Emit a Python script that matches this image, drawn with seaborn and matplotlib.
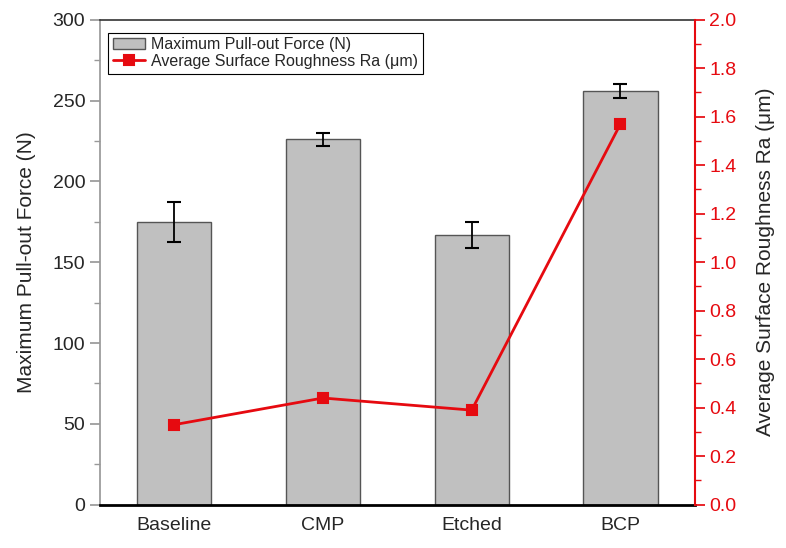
import matplotlib
matplotlib.use("Agg")
import matplotlib.pyplot as plt
from matplotlib.ticker import MultipleLocator
import pandas as pd
import seaborn as sns

# data
treatments = ["Baseline", "CMP", "Etched", "BCP"]
pullout_force = [175, 226, 167, 256]
pullout_err = [12.5, 4, 8, 4.5]
roughness_ra = [0.33, 0.44, 0.39, 1.57]

sns.set_theme(style="white")
plt.rcParams["font.family"] = ["Liberation Sans", "DejaVu Sans"]

df = pd.DataFrame({"treatment": treatments, "force": pullout_force,
                   "err": pullout_err, "ra": roughness_ra})

RED = "#e60a10"
fig = plt.figure(figsize=(7.86, 5.48), dpi=100)
ax = fig.add_axes([0.127, 0.079, 0.757, 0.885])

sns.barplot(data=df, x="treatment", y="force", color="#c0c0c0", width=0.5,
            edgecolor="#555555", linewidth=1, saturation=1, errorbar=None,
            ax=ax, label="Maximum Pull-out Force (N)")
ax.errorbar(range(len(df)), df["force"], yerr=df["err"], fmt="none",
            ecolor="black", elinewidth=1.3, capsize=5, capthick=1.5)

ax.set_ylim(0, 300)
ax.set_xlim(-0.5, 3.5)
ax.yaxis.set_major_locator(MultipleLocator(50))
ax.yaxis.set_minor_locator(MultipleLocator(25))
ax.tick_params(axis="y", which="both", direction="out", left=True,
               color="#999999", labelsize=14)
ax.tick_params(axis="y", which="major", length=7)
ax.tick_params(axis="y", which="minor", length=4)
ax.tick_params(axis="x", direction="in", bottom=True, length=6,
               color="black", labelsize=14, pad=9)
ax.set_xlabel("")
ax.set_ylabel("Maximum Pull-out Force (N)", fontsize=15, labelpad=12)
ax.spines["left"].set_color("#999999")
ax.spines["bottom"].set_color("black")
ax.spines["bottom"].set_linewidth(2)
ax.spines["top"].set_color("#333333")
ax.spines["top"].set_linewidth(1.2)
ax.spines["right"].set_visible(False)

ax2 = ax.twinx()
sns.pointplot(data=df, x="treatment", y="ra", color=RED, markers="s",
              markersize=6.5, linewidth=2, ax=ax2,
              label="Average Surface Roughness Ra (μm)")
ax2.set_ylim(0, 2.0)
ax2.set_xlim(-0.5, 3.5)
ax2.yaxis.set_major_locator(MultipleLocator(0.2))
ax2.yaxis.set_minor_locator(MultipleLocator(0.1))
ax2.yaxis.set_major_formatter(plt.FormatStrFormatter("%.1f"))
ax2.tick_params(axis="y", which="both", direction="out", right=True,
                color=RED, labelcolor=RED, labelsize=14)
ax2.tick_params(axis="y", which="major", length=7)
ax2.tick_params(axis="y", which="minor", length=4)
ax2.set_ylabel("Average Surface Roughness Ra (μm)", fontsize=15, labelpad=14)
for s in ["left", "top", "bottom"]:
    ax2.spines[s].set_visible(False)
ax2.spines["right"].set_color(RED)
ax2.spines["right"].set_linewidth(1.5)

h1, l1 = ax.get_legend_handles_labels()
h2, l2 = ax2.get_legend_handles_labels()
leg = ax2.legend(h1[:1] + h2[:1], l1[:1] + l2[:1], loc="upper left",
                 bbox_to_anchor=(0.0, 0.99), fontsize=11.5, frameon=True,
                 fancybox=False, edgecolor="black", framealpha=1,
                 handlelength=2, handletextpad=0.4, borderpad=0.3,
                 labelspacing=0.1)
leg.get_frame().set_linewidth(0.8)
if ax.get_legend() is not None:
    ax.get_legend().remove()

fig.savefig("out.png", dpi=100)
